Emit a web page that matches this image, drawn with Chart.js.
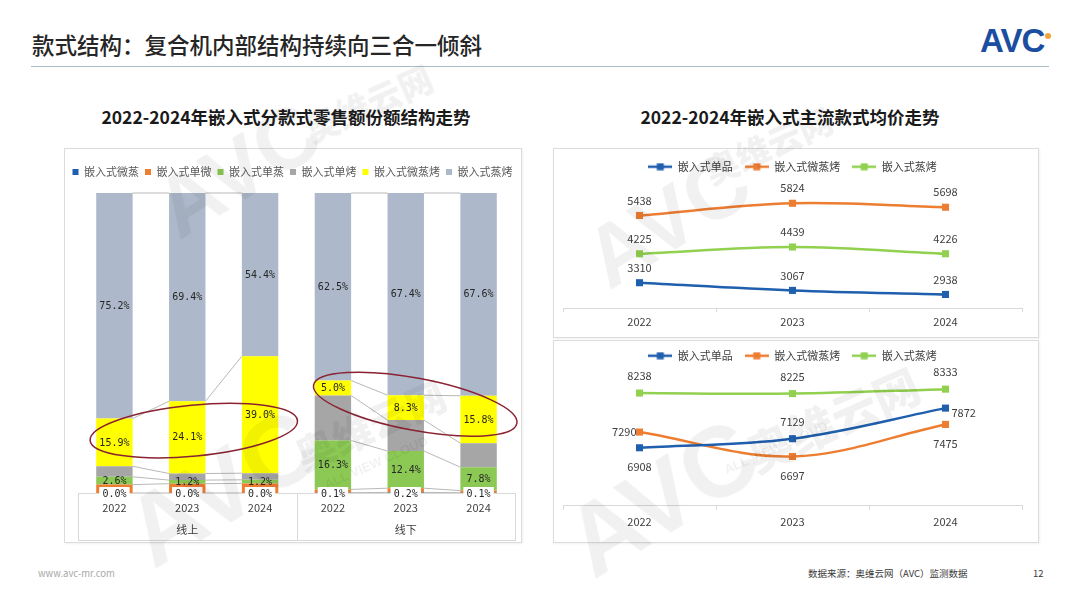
<!DOCTYPE html>
<html>
<head>
<meta charset="utf-8">
<script src="https://cdn.jsdelivr.net/npm/chart.js@4.4.1/dist/chart.umd.min.js"></script>
<style>
html,body{margin:0;padding:0;background:#fff;}
body{width:1080px;height:608px;position:relative;overflow:hidden;font-family:"Noto Sans CJK SC","Noto Sans",sans-serif;}
.abs{position:absolute;}
#mainTitle{left:32px;top:29px;font-size:22.5px;font-weight:500;color:#262626;line-height:30px;white-space:nowrap;}
#rule{left:31px;top:66px;width:1018px;height:0;border-top:1.5px solid #a9bcc6;}
#logo{left:980px;top:22px;font-family:"Liberation Sans",Arial,sans-serif;font-weight:700;font-size:33px;color:#1b4ea0;letter-spacing:-1px;line-height:38px;}
#logoDot{left:1045px;top:33px;width:6px;height:6px;border-radius:50%;background:#f2a33a;}
.ctitle{top:104px;width:520px;text-align:center;font-size:17.5px;font-weight:700;color:#1a1a1a;line-height:26px;white-space:nowrap;}
.panel{border:1px solid #dcdcdc;box-shadow:1px 1px 2px rgba(0,0,0,0.06);background:#fff;}
canvas{position:absolute;}
.foot{top:566px;font-size:9.5px;line-height:14px;white-space:nowrap;}
.wm{color:rgba(0,0,0,0.055);font-weight:900;white-space:nowrap;pointer-events:none;transform-origin:center;}
</style>
</head>
<body>
<div id="mainTitle" class="abs">款式结构：复合机内部结构持续向三合一倾斜</div>
<div id="rule" class="abs"></div>
<div id="logo" class="abs">AVC</div>
<div id="logoDot" class="abs"></div>

<div class="abs ctitle" style="left:26px;">2022-2024年嵌入式分款式零售额份额结构走势</div>
<div class="abs ctitle" style="left:530px;">2022-2024年嵌入式主流款式均价走势</div>

<div class="abs panel" style="left:64px;top:148px;width:456px;height:393px;"></div>
<div class="abs panel" style="left:553px;top:148px;width:484px;height:188px;"></div>
<div class="abs panel" style="left:553px;top:340px;width:484px;height:201px;"></div>

<canvas id="shareChart" width="457" height="396" style="left:64px;top:149px;"></canvas>
<canvas id="priceTop" width="484" height="192" style="left:554px;top:140px;"></canvas>
<canvas id="priceBottom" width="484" height="200" style="left:554px;top:335px;"></canvas>

<div class="abs foot" style="left:38px;color:#a8a8a8;">www.avc-mr.com</div>
<div class="abs foot" style="left:808px;color:#3a3a3a;">数据来源：奥维云网（AVC）监测数据</div>
<div class="abs foot" style="left:1033px;color:#3a3a3a;">12</div>

<!-- faint watermark -->
<div class="abs wm" style="left:150px;top:120px;font-size:86px;transform:rotate(-32deg);font-family:'Liberation Sans',sans-serif;">AVC</div>
<div class="abs wm" style="left:300px;top:78px;font-size:34px;transform:rotate(-24deg);">奥维云网</div>
<div class="abs wm" style="left:580px;top:170px;font-size:86px;transform:rotate(-32deg);font-family:'Liberation Sans',sans-serif;">AVC</div>
<div class="abs wm" style="left:700px;top:120px;font-size:34px;transform:rotate(-24deg);">奥维云网</div>
<div class="abs wm" style="left:120px;top:430px;font-size:100px;transform:rotate(-32deg);font-family:'Liberation Sans',sans-serif;">AVC</div>
<div class="abs wm" style="left:290px;top:395px;font-size:40px;transform:rotate(-24deg);">奥维云网</div>
<div class="abs wm" style="left:320px;top:455px;font-size:13px;transform:rotate(-24deg);font-family:'Liberation Sans',sans-serif;">ALL VIEW CLOUD</div>
<div class="abs wm" style="left:560px;top:440px;font-size:100px;transform:rotate(-32deg);font-family:'Liberation Sans',sans-serif;">AVC</div>
<div class="abs wm" style="left:740px;top:385px;font-size:46px;transform:rotate(-24deg);">奥维云网</div>
<div class="abs wm" style="left:720px;top:440px;font-size:13px;transform:rotate(-24deg);font-family:'Liberation Sans',sans-serif;">ALL VIEW CLOUD</div>

<script>
// ---------------- DATA ----------------
const channels = ['线上', '线下'];
const years = ['2022', '2023', '2024'];

// 份额结构 (%) ; order of categories: 线上 2022-2024, 线下 2022-2024
const shareSeriesNames = ['嵌入式微蒸', '嵌入式单微', '嵌入式单蒸', '嵌入式单烤', '嵌入式微蒸烤', '嵌入式蒸烤'];
const shareWeiZheng    = [0.0, 0.0, 0.0, 0.1, 0.2, 0.1];
const shareDanWei      = [2.8, 3.1, 3.2, 1.1, 1.4, 0.7];
const shareDanZheng    = [2.6, 1.2, 1.2, 16.3, 12.4, 7.8];
const shareDanKao      = [3.5, 2.2, 2.2, 15.0, 10.3, 8.0];
const shareWeiZhengKao = [15.9, 24.1, 39.0, 5.0, 8.3, 15.8];
const shareZhengKao    = [75.2, 69.4, 54.4, 62.5, 67.4, 67.6];

// 均价 (元)
const priceSeriesNames = ['嵌入式单品', '嵌入式微蒸烤', '嵌入式蒸烤'];
const onlineDanPin       = [3310, 3067, 2938];
const onlineWeiZhengKao  = [5438, 5824, 5698];
const onlineZhengKao     = [4225, 4439, 4226];
const offlineDanPin      = [6908, 7129, 7872];
const offlineWeiZhengKao = [7290, 6697, 7475];
const offlineZhengKao    = [8238, 8225, 8333];

// ---------------- STYLE ----------------
const FONT = '"Noto Sans CJK SC","Noto Sans",sans-serif';
const MONO = '"DejaVu Sans Mono","Liberation Mono",monospace';
const shareColors = ['#2160ad', '#ed7d31', '#8cc954', '#a6a6a6', '#ffff00', '#adb9ca'];
const shareLabelMode = ['base', 'none', 'center', 'none', 'center', 'center'];
const priceColors = ['#1f5fae', '#ed7d31', '#92d050'];

const cats = [];
const catGroup = [];
channels.forEach(ch => years.forEach(y => { cats.push(y); catGroup.push(ch); }));
const shareData = [shareWeiZheng, shareDanWei, shareDanZheng, shareDanKao, shareWeiZhengKao, shareZhengKao];

// patch legend height so the gap between legend and plot can be tuned
function legendGap(extra) {
  return {
    id: 'legendGap',
    beforeLayout(chart) {
      const lg = chart.legend;
      if (lg && !lg._gapPatched) {
        const orig = lg.fit;
        lg.fit = function () { orig.call(this); this.height += extra; };
        lg._gapPatched = true;
      }
    }
  };
}

const seriesLines = {
  id: 'seriesLines',
  beforeDatasetsDraw(chart, args, opts) {
    const ctx = chart.ctx;
    ctx.save();
    ctx.strokeStyle = opts.color;
    ctx.lineWidth = opts.width;
    chart.data.datasets.forEach((ds, d) => {
      const meta = chart.getDatasetMeta(d);
      for (let i = 0; i < meta.data.length - 1; i++) {
        if (opts.group[i] !== opts.group[i + 1]) continue;
        const a = meta.data[i], b = meta.data[i + 1];
        ctx.beginPath();
        ctx.moveTo(a.x + a.width / 2, a.y);
        ctx.lineTo(b.x - b.width / 2, b.y);
        ctx.stroke();
      }
    });
    ctx.restore();
  }
};

const barDecor = {
  id: 'barDecor',
  afterDatasetsDraw(chart, args, opts) {
    const ctx = chart.ctx, area = chart.chartArea, xs = chart.scales.x, ys = chart.scales.y;
    ctx.save();
    // category table box
    ctx.strokeStyle = '#d9d9d9';
    ctx.lineWidth = 1;
    const t = Math.round(area.bottom) + 0.5, b = t + opts.tableDepth;
    ctx.strokeRect(Math.round(area.left) + 0.5, t, area.right - area.left, opts.tableDepth);
    for (let i = 1; i < catGroup.length; i++) {
      if (catGroup[i] !== catGroup[i - 1]) {
        const xm = Math.round((xs.getPixelForValue(i - 1) + xs.getPixelForValue(i)) / 2) + 0.5;
        ctx.beginPath(); ctx.moveTo(xm, t); ctx.lineTo(xm, b); ctx.stroke();
      }
    }
    // data labels
    ctx.font = '10px ' + MONO;
    ctx.textAlign = 'center';
    ctx.textBaseline = 'middle';
    chart.data.datasets.forEach((ds, d) => {
      const mode = shareLabelMode[d];
      if (mode === 'none') return;
      const meta = chart.getDatasetMeta(d);
      meta.data.forEach((el, i) => {
        const txt = ds.data[i].toFixed(1) + '%';
        let y = (el.y + el.base) / 2;
        if (mode === 'base') {
          y = el.base + 1;
          ctx.fillStyle = '#ffffff';
          ctx.fillRect(el.x - el.width / 2 + 3, y - 7, el.width - 6, 14);
        }
        ctx.fillStyle = '#262626';
        ctx.fillText(txt, el.x, y + 0.5);
      });
    });
    // highlight ovals
    ctx.strokeStyle = opts.ovalColor;
    ctx.lineWidth = 1.5;
    const catW = xs.getPixelForValue(1) - xs.getPixelForValue(0);
    const pxPerUnit = Math.abs(ys.getPixelForValue(0) - ys.getPixelForValue(1));
    opts.ovals.forEach(o => {
      ctx.beginPath();
      ctx.ellipse(xs.getPixelForValue(o.cat), ys.getPixelForValue(o.val), o.rxCat * catW, o.ryVal * pxPerUnit, o.rot * Math.PI / 180, 0, Math.PI * 2);
      ctx.stroke();
    });
    ctx.restore();
  }
};

const hiddenAxis = (pos, w) => ({
  type: 'linear', position: pos, display: true, min: 0, max: 100, stacked: true,
  grid: { display: false, drawTicks: false }, border: { display: false },
  ticks: { display: false },
  afterFit: (s) => { s.width = w; }
});

new Chart(document.getElementById('shareChart'), {
  type: 'bar',
  data: {
    labels: cats,
    datasets: shareData.map((arr, i) => ({
      label: shareSeriesNames[i],
      data: arr,
      backgroundColor: shareColors[i],
      borderWidth: 0,
      barPercentage: 1,
      categoryPercentage: 0.5
    }))
  },
  options: {
    responsive: false,
    animation: false,
    layout: { padding: { left: 0, right: 0, top: 11.5, bottom: 0 } },
    scales: {
      x: {
        stacked: true,
        grid: { display: false, drawTicks: false },
        border: { display: false },
        ticks: {
          autoSkip: false, maxRotation: 0, minRotation: 0, padding: 4,
          color: '#404040',
          font: { size: 11, family: FONT, lineHeight: 2 },
          callback: (v, i) => (i % years.length === 1) ? [cats[i], catGroup[i]] : cats[i]
        }
      },
      y: hiddenAxis('left', 14),
      yRight: hiddenAxis('right', 6)
    },
    plugins: {
      legend: {
        position: 'top',
        labels: { boxWidth: 6, boxHeight: 6, padding: 6, color: '#595959', font: { size: 11, family: FONT } }
      },
      tooltip: { enabled: false },
      seriesLines: { color: '#a6a6a6', width: 0.8, group: catGroup },
      barDecor: {
        tableDepth: 47,
        ovalColor: '#8b2232',
        ovals: [
          { cat: 1.09, val: 20.8, rxCat: 1.43, ryVal: 8.5, rot: -5.5 },
          { cat: 4.13, val: 29.6, rxCat: 1.42, ryVal: 8.7, rot: 10.7 }
        ]
      }
    }
  },
  plugins: [legendGap(4.5 + 1), seriesLines, barDecor]
});

// ---------------- line charts ----------------
function legendIcon(color) {
  const c = document.createElement('canvas');
  c.width = 24; c.height = 8;
  const g = c.getContext('2d');
  g.strokeStyle = color; g.lineWidth = 2.5;
  g.beginPath(); g.moveTo(0, 4); g.lineTo(24, 4); g.stroke();
  g.fillStyle = color; g.fillRect(8.5, 0.5, 7, 7);
  return c;
}

const pointLabels = {
  id: 'pointLabels',
  afterDatasetsDraw(chart, args, opts) {
    const ctx = chart.ctx;
    ctx.save();
    ctx.font = '11px ' + FONT;
    ctx.fillStyle = '#404040';
    ctx.textBaseline = 'middle';
    chart.data.datasets.forEach((ds, d) => {
      const meta = chart.getDatasetMeta(d);
      meta.data.forEach((pt, i) => {
        const pos = opts.pos[d][i];
        let x = pt.x, y = pt.y, align = 'center';
        if (pos === 't') y -= opts.above;
        else if (pos === 'b') y += opts.below;
        else if (pos === 'l') { x -= 3; align = 'right'; }
        else if (pos === 'r') { x += 6; y += 5; align = 'left'; }
        ctx.textAlign = align;
        ctx.fillText(String(ds.data[i]), x, y);
      });
    });
    ctx.restore();
  }
};

function priceChart(id, series, yMin, yMax, tickPad, gap, padTop, padBottom, pos, above, below) {
  return new Chart(document.getElementById(id), {
    type: 'line',
    data: {
      labels: years,
      datasets: series.map((arr, i) => ({
        label: priceSeriesNames[i],
        data: arr,
        borderColor: priceColors[i],
        backgroundColor: priceColors[i],
        borderWidth: 2.5,
        tension: 0.35,
        pointStyle: 'rect',
        pointRadius: 5,
        pointBorderWidth: 0,
        pointBackgroundColor: priceColors[i],
        pointBorderColor: priceColors[i],
        clip: false
      }))
    },
    options: {
      responsive: false,
      animation: false,
      layout: { padding: { left: 9, right: 16, top: padTop, bottom: padBottom } },
      scales: {
        x: {
          offset: true,
          grid: { offset: true, drawOnChartArea: false, drawTicks: true, tickLength: 4, color: '#d9d9d9' },
          border: { display: true, color: '#d9d9d9', width: 1 },
          ticks: { padding: tickPad, color: '#404040', font: { size: 11, family: FONT } }
        },
        y: { display: false, min: yMin, max: yMax }
      },
      plugins: {
        legend: {
          position: 'top',
          labels: {
            usePointStyle: true, pointStyleWidth: 24, boxHeight: 8, padding: 12,
            color: '#404040', font: { size: 11, family: FONT },
            generateLabels: (chart) => chart.data.datasets.map((ds, i) => ({
              text: ds.label, pointStyle: legendIcon(ds.borderColor),
              fillStyle: ds.borderColor, strokeStyle: ds.borderColor, lineWidth: 0,
              fontColor: '#404040', hidden: false, datasetIndex: i
            }))
          }
        },
        tooltip: { enabled: false },
        pointLabels: { pos: pos, above: above, below: below }
      }
    },
    plugins: [legendGap(gap), pointLabels]
  });
}

priceChart('priceTop', [onlineDanPin, onlineWeiZhengKao, onlineZhengKao], 2500, 6000, 3, 15.5, 9.2, 0.5,
  [['t', 't', 't'], ['t', 't', 't'], ['t', 't', 't']], 15, 18);
priceChart('priceBottom', [offlineDanPin, offlineWeiZhengKao, offlineZhengKao], 5500, 9000, 6, -9.5, 3.2, 0.1,
  [['b', 't', 'r'], ['l', 'b', 'b'], ['t', 't', 't']], 17, 19);
</script>
</body>
</html>
